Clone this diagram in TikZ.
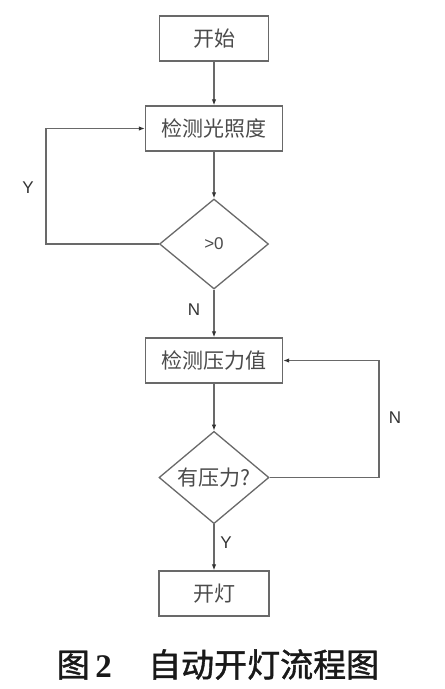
\documentclass[tikz,border=0pt]{standalone}
\usepackage{fontspec}
\setmainfont{Liberation Serif}
\newfontfamily\cjk{Noto Sans CJK SC}
\newfontfamily\cjkcap[FakeBold=1.2]{Noto Sans CJK SC}
\newfontfamily\lat{Liberation Sans}
\usetikzlibrary{shapes.geometric,arrows.meta}
\definecolor{linegray}{RGB}{105,105,105}
\definecolor{textgray}{RGB}{75,75,75}
\tikzset{
  box/.style={draw=linegray,line width=1.3pt,rectangle,minimum height=45pt,inner sep=0pt,
    text=textgray,font=\cjk\fontsize{21}{21}\selectfont},
  dia/.style={draw=linegray,line width=1.3pt,diamond,inner sep=0pt,
    text=textgray,font=\cjk\fontsize{21}{21}\selectfont},
  conn/.style={draw=linegray,line width=1.3pt},
  arr/.style={conn,-{Latex[length=6pt,width=4.5pt,color=black!80]}},
  lab/.style={font=\lat\fontsize{17}{17}\selectfont,text=black!80},
}
\begin{document}
\begin{tikzpicture}[x=1pt,y=-1pt]
\useasboundingbox[fill=white] (0,0) rectangle (445,689);
\node[box,minimum width=109pt] (start) at (214,38.5) {开始};
\node[box,minimum width=137pt] (light) at (214,128.5) {检测光照度};
\node[dia,minimum width=109pt,minimum height=90pt] (d1) at (214,244) {\lat\fontsize{17}{17}\selectfont >0};
\node[box,minimum width=137pt] (press) at (214,360.5) {检测压力值};
\node[dia,minimum width=110pt,minimum height=91pt] (d2) at (214,477.5) {有压力?};
\node[box,minimum width=110pt] (on) at (214,593.5) {开灯};
\coordinate (lc) at (46,0);
\coordinate (rc) at (379,0);
\draw[arr] (start.south) -- (light.north);
\draw[arr] (light.south) -- (d1.north);
\draw[arr] (d1.south) -- (press.north);
\draw[arr] (d1.west) -- (d1.west -| lc) -- (light.west -| lc) -- (light.west);
\draw[arr] (press.south) -- (d2.north);
\draw[arr] (d2.south) -- (on.north);
\draw[arr] (d2.east) -- (d2.east -| rc) -- (press.east -| rc) -- (press.east);
\node[lab] (ly) at (28,188) {Y};
\node[lab] (ln) at (194,310) {N};
\node[lab] (ry) at (226,543) {Y};
\node[lab] (rn) at (395,418) {N};
\node[font=\cjkcap\fontsize{33}{33}\selectfont,text=black!90,anchor=base] (cap) at (218,677) {图\,{\rmfamily\bfseries 2}\hspace{1.1em}自动开灯流程图};
\end{tikzpicture}
\end{document}
